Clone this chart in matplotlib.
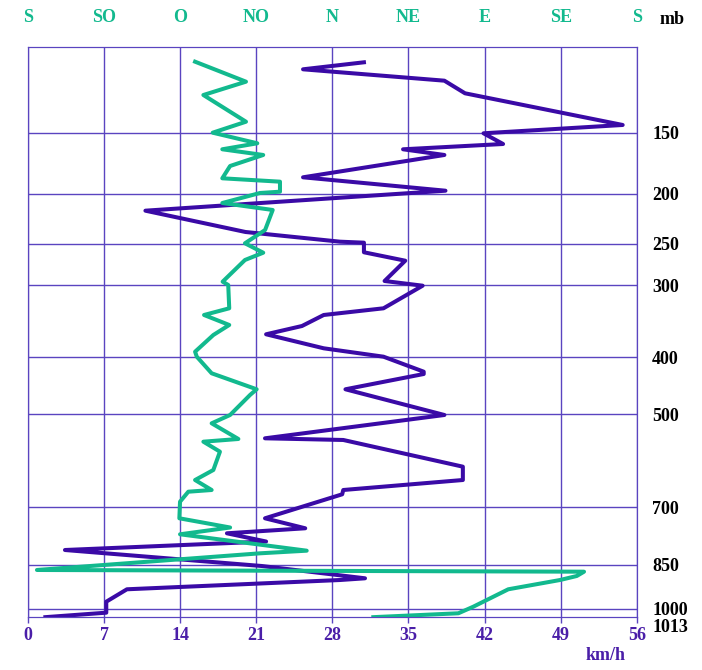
import matplotlib
matplotlib.use("Agg")
import matplotlib.pyplot as plt

# wind speed profile: speed (km/h) at height (m)
SPEED_H_M = [15488, 15291, 14971, 14616, 13725, 13491, 13190, 13041, 12881, 12253,
             11876, 11314, 10715, 10442, 10414, 10144, 9907, 9336, 9204, 8568,
             8380, 8070, 7837, 7443, 7207, 6785, 6720, 6290, 5567, 4911,
             4864, 4113, 3738, 3457, 3336, 2661, 2380, 2239, 2008, 1769,
             1319, 973, 925, 664, 315, 6, -120]
SPEED_KMH = [30.9, 25.3, 38.3, 40.2, 54.7, 41.9, 43.7, 34.5, 38.3, 25.3,
             38.4, 10.8, 20.0, 28.7, 30.9, 30.9, 34.7, 32.8, 36.3, 32.7,
             27.2, 25.2, 21.9, 27.2, 32.7, 36.4, 36.4, 29.2, 38.3, 21.8,
             29.0, 40.0, 40.0, 29.0, 28.9, 21.8, 25.5, 18.3, 21.9, 3.4,
             21.5, 31.0, 28.7, 9.1, 7.2, 7.2, 1.6]

# wind direction profile: degrees (meteorological) at height (m)
DIR_H_M = [15505, 14943, 14568, 13817, 13508, 13210, 13041, 12881, 12571, 12225,
           12130, 11848, 11812, 11530, 11334, 10771, 10397, 10132, 9927, 9317,
           9224, 8568, 8380, 8099, 7817, 7347, 7207, 6740, 6290, 6130,
           5567, 5333, 4892, 4816, 4535, 4020, 3738, 3457, 3409, 3128,
           2661, 2402, 2211, 1750, 1676, 1207, 1159, 1038, 925, 664,
           174, -11, -120]
DIR_DEG = [278.8, 308.9, 283.7, 308.9, 289.2, 315.6, 294.9, 319.1, 299.5, 294.9,
           329.0, 329.0, 317.2, 294.9, 324.7, 320.2, 308.3, 319.1, 308.3, 295.1,
           298.4, 299.0, 284.1, 299.0, 289.6, 278.8, 279.8, 288.6, 315.2, 311.3,
           299.5, 288.6, 304.4, 283.7, 293.5, 289.6, 278.8, 288.6, 274.8, 269.9,
           269.5, 299.5, 269.9, 344.8, 317.2, 185.3, 148.8, 144.5, 134.6, 104.0,
           83.3, 74.5, 24.2]

# pressure levels and their heights
LEVEL_MB = ["150", "200", "250", "300", "400", "500", "700", "850", "1000"]
LEVEL_H_M = [13508, 11784, 10386, 9210, 7190, 5581, 2965, 1348, 110]
SURFACE_MB = "1013"
SURFACE_H_M = -124

SPEED_TICKS = [0, 7, 14, 21, 28, 35, 42, 49, 56]
DIR_TICKS = [0, 45, 90, 135, 180, 225, 270, 315, 360]
DIR_LABELS = ["S", "SO", "O", "NO", "N", "NE", "E", "SE", "S"]

PURPLE = "#3a0aa6"
LABEL_PURPLE = "#4a1ea8"
TEAL = "#12b98e"
GRID = "#5a44c0"

plt.rcParams["font.family"] = ["Liberation Serif", "DejaVu Serif"]
plt.rcParams["font.weight"] = "bold"
plt.rcParams["font.size"] = 13

fig = plt.figure(figsize=(7.02, 6.70), dpi=100)
ax = fig.add_axes([28 / 702, 52.7 / 670, 608.8 / 702, 570 / 670])

ax.plot(SPEED_KMH, SPEED_H_M, color=PURPLE, lw=2.9)
ax.set_xlim(0, 56)
ax.set_ylim(SURFACE_H_M, 15910)
ax.set_xticks(SPEED_TICKS)
ax.set_yticks(LEVEL_H_M)
ax.set_yticklabels(LEVEL_MB)
ax.yaxis.tick_right()
ax.grid(True, color=GRID, lw=1)
ax.tick_params(axis="x", color=GRID, labelcolor=LABEL_PURPLE, length=4, width=1, pad=3)
ax.tick_params(axis="y", length=0, pad=11, labelcolor="black")
for s in ax.spines.values():
    s.set_color(GRID)

# surface level label sits just under the frame
ax.annotate(SURFACE_MB, xy=(1, SURFACE_H_M), xycoords=("axes fraction", "data"),
            xytext=(11, -1.5), textcoords="offset points", ha="left", va="top")

ax2 = ax.twiny()
ax2.plot([(d - 180) % 360 for d in DIR_DEG], DIR_H_M, color=TEAL, lw=2.9)
ax2.set_xlim(0, 360)
ax2.set_xticks(DIR_TICKS, DIR_LABELS)
ax2.tick_params(axis="x", length=0, pad=15, labelcolor=TEAL)
for s in ax2.spines.values():
    s.set_color(GRID)

fig.text(672 / 702, 1 - 19 / 670, "mb", ha="center", va="center", color="black")
fig.text(606 / 702, 1 - 655 / 670, "km/h", ha="center", va="center", color=LABEL_PURPLE)

fig.savefig("out.png", dpi=100)
